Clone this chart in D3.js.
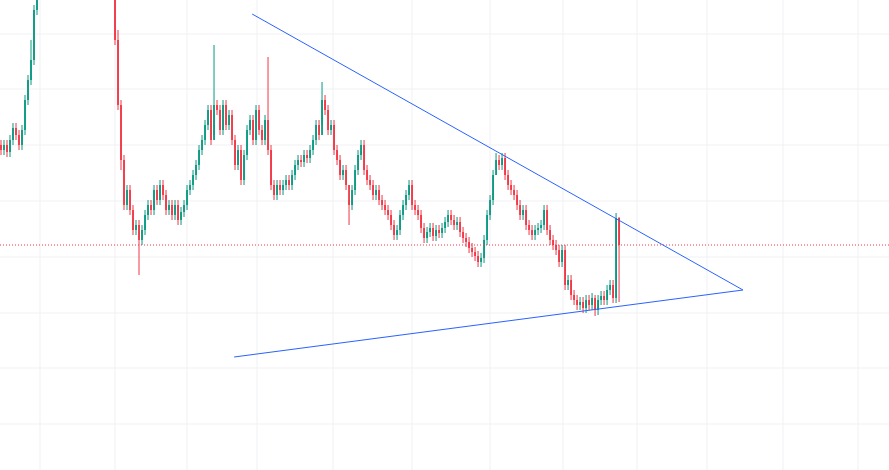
<!DOCTYPE html>
<html><head><meta charset="utf-8">
<script src="https://cdn.jsdelivr.net/npm/d3@7"></script>
<style>body{margin:0;background:#fff}svg{display:block}</style>
</head><body>
<svg id="chart" width="889" height="470"></svg>
<script>
// closing prices, one per bar (open = previous close)
const closes = [320,325,318,330,342,335,325,340,370,390,410,460,490,
  510,530,520,550,540,560,570,555,565,580,570,560,565,550,555,540,545,530,535,520,510,515,500,490,480,
  430,365,310,265,280,260,240,245,230,240,255,265,260,280,270,285,275,260,265,255,265,250,258,265,280,285,
  295,305,320,330,345,360,330,365,360,340,365,345,355,330,305,320,290,315,340,350,330,360,340,330,350,320,
  285,275,285,280,285,290,285,295,305,310,308,315,312,320,330,345,335,370,360,340,345,320,310,295,300,285,
  265,280,300,315,325,300,290,285,275,280,270,265,260,255,245,235,240,255,265,275,285,265,260,255,242,232,
  238,242,234,240,237,242,248,255,250,245,248,238,232,228,222,218,214,208,212,230,255,270,295,310,305,312,
  295,285,280,275,265,255,260,245,240,235,240,242,245,260,240,230,225,220,208,220,185,190,175,170,165,168,
  162,170,165,172,160,170,174,170,180,185,172,252,225];
// wick extremes that stand out: [bar, high, low]
const wicks = [[10,430,385],[39,440,360],[40,370,300],[46,250,195],[71,425,335],[89,413,315],
  [107,388,345],[116,270,245],[165,317,300],[198,175,154],[206,253,168],[207,256,222]];
const lastPrice = 225;
const upperLine = [[83.7,456],[247.3,180]];
const lowerLine = [[77.7,113],[247.3,180]];
const gridX = [40,115,187,257,333,412,490,563,637,707,783,858];
const gridY = [34,89,145,201,257,313,368,424];

const W = 889, H = 470;
const svg = d3.select("#chart");
const x = d3.scaleLinear().domain([0, 296.3]).range([1, 890]);
const y = d3.scaleLinear().domain([0, 470]).range([H, 0]);

// grid
svg.append("g").selectAll("line").data(gridX).enter().append("line")
  .attr("x1", d => d).attr("x2", d => d).attr("y1", 0).attr("y2", H)
  .attr("stroke", "#f0f1f4").attr("stroke-width", 1);
svg.append("g").selectAll("line").data(gridY).enter().append("line")
  .attr("y1", d => d).attr("y2", d => d).attr("x1", 0).attr("x2", W)
  .attr("stroke", "#f0f1f4").attr("stroke-width", 1);

// bars
const wickMap = new Map(wicks.map(w => [w[0], w]));
const bars = closes.map((c, i) => {
  const o = i ? closes[i - 1] : c + 5;
  const w = wickMap.get(i);
  return { i, o, c,
    h: w ? w[1] : Math.max(o, c) + 5,
    l: w ? w[2] : Math.min(o, c) - 5 };
});
const up = "#089981", down = "#f23645";
const g = svg.append("g");
g.selectAll("line").data(bars).enter().append("line")
  .attr("x1", d => x(d.i)).attr("x2", d => x(d.i))
  .attr("y1", d => y(d.h)).attr("y2", d => y(d.l))
  .attr("stroke", d => d.c >= d.o ? up : down).attr("stroke-width", 1);
g.selectAll("rect").data(bars).enter().append("rect")
  .attr("x", d => x(d.i) - 0.9).attr("width", 1.8)
  .attr("y", d => y(Math.max(d.o, d.c)))
  .attr("height", d => Math.max(1, Math.abs(y(d.o) - y(d.c))))
  .attr("fill", d => d.c >= d.o ? up : down);

// last price line
svg.append("line").attr("x1", 0).attr("x2", W)
  .attr("y1", y(lastPrice)).attr("y2", y(lastPrice))
  .attr("stroke", "#f23645").attr("stroke-width", 1).attr("stroke-dasharray", "1,2");

// trend lines
const line = d3.line().x(d => x(d[0])).y(d => y(d[1]));
[upperLine, lowerLine].forEach(pts => svg.append("path").attr("d", line(pts))
  .attr("fill", "none").attr("stroke", "#2962ff").attr("stroke-width", 1));
</script>
</body></html>
